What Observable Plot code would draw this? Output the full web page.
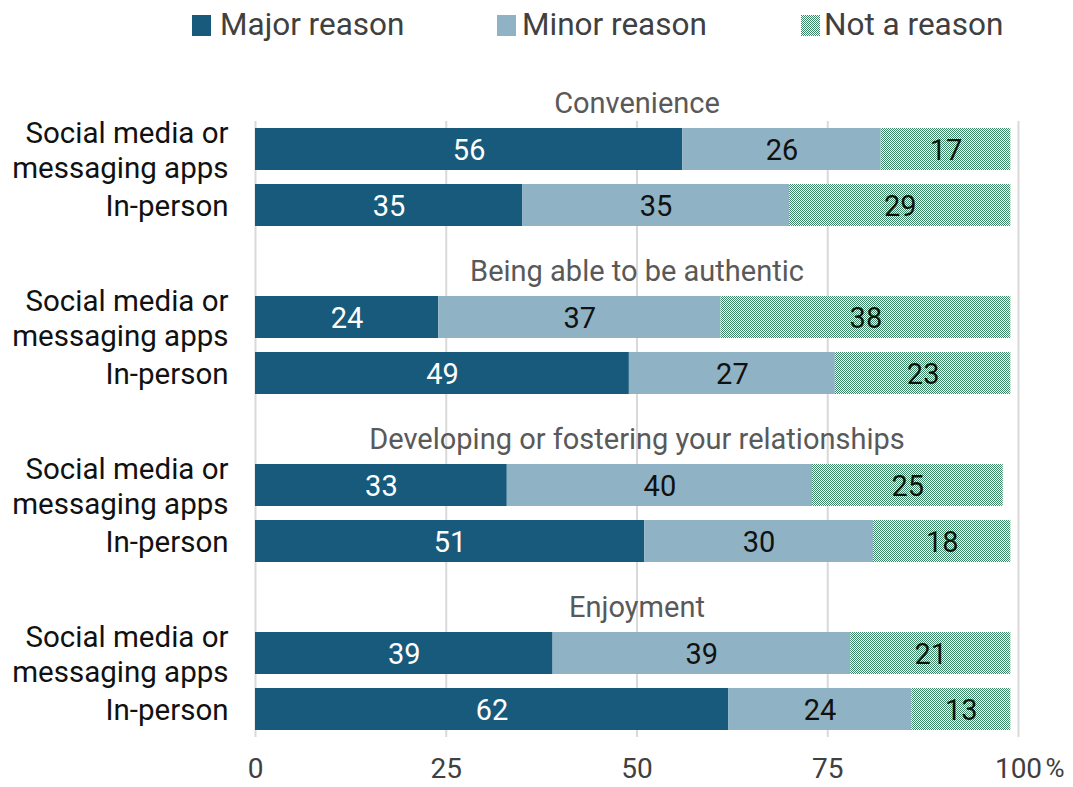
<!DOCTYPE html>
<html>
<head>
<meta charset="utf-8">
<script src="https://cdn.jsdelivr.net/npm/d3@7"></script>
<script src="https://cdn.jsdelivr.net/npm/@observablehq/plot@0.6"></script>
<style>
  html, body { margin: 0; padding: 0; background: #fff; }
  body { width: 1073px; height: 787px; overflow: hidden; font-family: Roboto, sans-serif; }
  #legend { position: relative; height: 44px; width: 1073px; }
  #legend .sw { position: absolute; top: 15px; width: 19px; height: 21px; }
  #legend .lb { position: absolute; top: 4px; font-size: 31.5px; line-height: 42px; color: #404040; white-space: nowrap; }
</style>
</head>
<body>
<div id="legend"></div>
<div id="chart"></div>
<script>
const groups = ["Convenience", "Being able to be authentic", "Developing or fostering your relationships", "Enjoyment"];
const channels = ["Social media or\nmessaging apps", "In-person"];
const types = ["Major reason", "Minor reason", "Not a reason"];
const major = [56, 35, 24, 49, 33, 51, 39, 62];
const minor = [26, 35, 37, 27, 40, 30, 39, 24];
const notReason = [17, 29, 38, 23, 25, 18, 21, 13];
const xTicks = [0, 25, 50, 75, 100];

const colors = ["#175a7b", "#8fb3c5", "url(#chk)"];

// build rows
const rowKey = (g, c) => g + "|" + c;
const domain = [];
groups.forEach((g, i) => {
  channels.forEach(c => domain.push(rowKey(g, c)));
  if (i < groups.length - 1) domain.push("gap" + i);
});
const data = [];
const seriesVals = [major, minor, notReason];
groups.forEach((g, gi) => {
  channels.forEach((c, ci) => {
    const idx = gi * 2 + ci;
    types.forEach((t, ti) => {
      data.push({row: rowKey(g, c), channel: c, type: t, value: seriesVals[ti][idx]});
    });
  });
});
const rows = domain.filter(d => !d.startsWith("gap")).map(d => ({row: d, label: d.split("|")[1]}));

const chart = Plot.plot({
  width: 1073,
  height: 743,
  marginLeft: 255,
  marginRight: 55,
  marginTop: 77,
  marginBottom: 50,
  style: {fontFamily: "Roboto, sans-serif", background: "#fff"},
  x: {domain: [0, 100], axis: null},
  y: {domain, paddingInner: 0.25, paddingOuter: 0.125, axis: null},
  color: {domain: types, range: colors},
  marks: [
    Plot.gridX(xTicks, {stroke: "#d9d9d9", strokeOpacity: 1, strokeWidth: 2}),
    Plot.barX(data, Plot.stackX({x: "value", y: "row", fill: "type", order: types})),
    Plot.text(data, Plot.stackX({
      x: "value", y: "row", z: "type", order: types, text: "value",
      fill: d => d.type === "Major reason" ? "#ffffff" : "#111111",
      fontSize: 29, dy: 1
    })),
    Plot.text(groups, {x: 50, y: g => rowKey(g, channels[0]), dy: -46, text: d => d, fontSize: 29, fill: "#595959"}),
    Plot.text(rows, {y: "row", text: "label", frameAnchor: "left", textAnchor: "end", dx: -27, fontSize: 29.5, lineHeight: 1.16, fill: "#111111"}),
    Plot.axisX(xTicks, {tickSize: 0, tickPadding: 21, fontSize: 28, color: "#404040", label: null, tickFormat: d => String(d)}),
    Plot.text(["%"], {x: 100, frameAnchor: "bottom", lineAnchor: "top", dy: 21, dx: 27, textAnchor: "start", fontSize: 26, fill: "#404040"})
  ]
});

d3.select(chart).insert("defs", ":first-child").html(
  '<pattern id="chk" width="2" height="2" patternUnits="userSpaceOnUse">' +
  '<rect width="2" height="2" fill="#ffffff"/>' +
  '<rect x="0" y="0" width="1" height="1" fill="#3b8c66"/>' +
  '<rect x="1" y="1" width="1" height="1" fill="#3b8c66"/></pattern>'
);
document.getElementById("chart").appendChild(chart);

// legend
const legend = d3.select("#legend");
const legendPos = [{sw: 192, lb: 220}, {sw: 497, lb: 522}, {sw: 801, lb: 824}];
types.forEach((t, i) => {
  const sw = legend.append("div").attr("class", "sw").style("left", legendPos[i].sw + "px");
  if (i < 2) sw.style("background", colors[i]);
  else {
    sw.append("svg").attr("width", 19).attr("height", 21)
      .append("rect").attr("width", 19).attr("height", 21).attr("fill", "url(#chk)");
  }
  legend.append("div").attr("class", "lb").style("left", legendPos[i].lb + "px").text(t);
});
</script>
</body>
</html>
